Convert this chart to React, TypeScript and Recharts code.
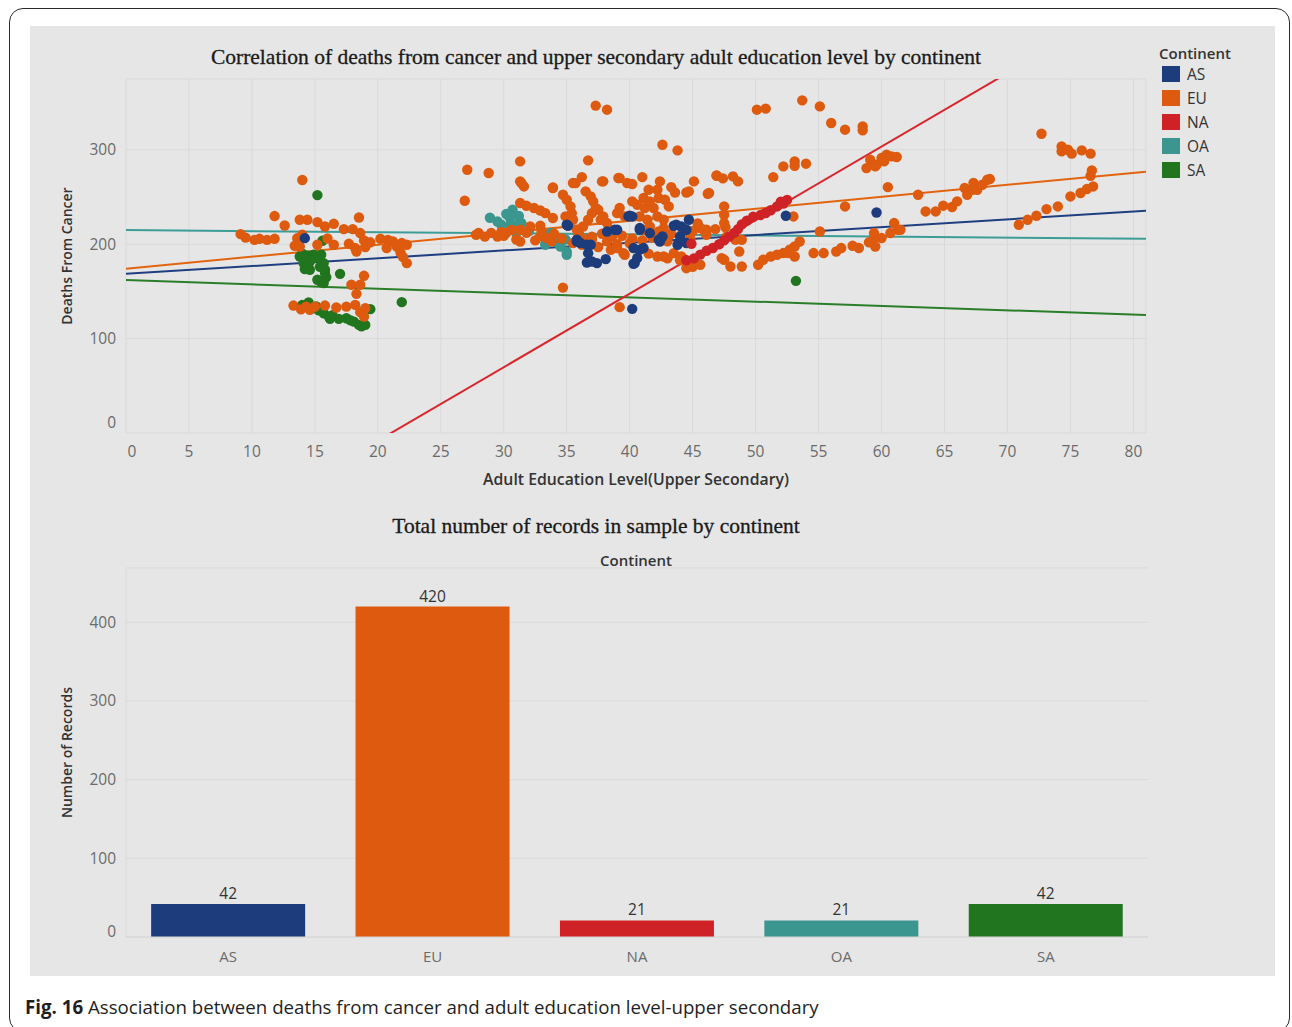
import React from "react";
import {
  ScatterChart,
  Scatter,
  BarChart,
  Bar,
  Cell,
  LabelList,
  XAxis,
  YAxis,
  CartesianGrid,
  ReferenceLine,
} from "recharts";

const continents = ["AS", "EU", "NA", "OA", "SA"];
const continentColors = ["#1d3c7b", "#dd5a0e", "#cf2227", "#3a968f", "#22751f"];
const lineColors = ["#1f3f80", "#e2640f", "#d9262c", "#3d9d96", "#2a7e2a"];

// number of records per continent (bar chart)
const recordCounts = [42, 420, 21, 21, 42];

// linear trend per continent: deaths = intercept + slope * education
const trendIntercepts = [168.6, 174, -164, 215, 162];
const trendSlopes = [0.825, 1.27, 7.79, -0.115, -0.457];

const xTicks = [0, 5, 10, 15, 20, 25, 30, 35, 40, 45, 50, 55, 60, 65, 70, 75, 80];
const yTicks = [0, 100, 200, 300];
const barTicks = [0, 100, 200, 300, 400];

// [education level, deaths from cancer]
const asPoints = [
  [14.2, 206.4], [35.1, 219.5], [35.8, 202.9], [36.6, 199.4], [36.7, 190.5], [36.6, 180.6],
  [37.4, 180], [38.1, 184.2], [38.2, 213.5], [38.8, 215.3], [40.0, 230.1], [40.8, 215.3],
  [41.6, 211.8], [40.3, 195.9], [40.8, 194.2], [40.6, 185.4], [40.3, 179.3], [42.4, 202.9],
  [43.5, 219.5], [44.0, 208.2], [44.5, 215.3], [44.5, 201.2], [43.8, 199.4], [40.2, 131.5],
  [35.0, 220.6], [35.8, 204.7], [36.1, 201.2], [36.9, 199.4], [37.0, 181.7], [39.0, 215.3],
  [39.9, 229.4], [40.2, 229.4], [40.8, 217.1], [42.6, 208.2], [43.7, 220.6], [44.7, 225.9],
  [41.1, 195.9], [42.3, 204.7], [52.4, 230.1], [59.6, 233.6], [40.4, 180], [44.1, 218.8],
];

const euPoints = [
  // low education group
  [9.1, 210.7], [9.5, 207], [10.2, 204.6], [10.6, 205.7], [11.2, 204.6], [11.8, 205.7],
  [14.0, 268], [11.8, 229.8], [12.6, 219.8], [13.8, 225.9], [14.4, 225.9], [15.2, 223.4],
  [15.8, 218.8], [16.5, 221.6], [17.3, 216], [18.0, 216], [18.5, 228.3], [18.6, 211.8],
  [13.6, 206.4], [13.4, 198.3], [13.8, 197.6], [14.0, 210], [15.2, 199.4], [16.0, 206],
  [16.5, 199.4], [17.7, 200.4], [18.2, 195.9], [18.3, 192.3], [19.0, 196.9], [18.9, 204],
  [19.4, 202], [20.2, 205.7], [20.8, 204.6], [21.2, 202.9], [20.7, 195.9], [21.5, 197.6],
  [21.9, 201.2], [22.3, 199.4], [21.8, 191.2], [22.0, 186.3], [22.3, 179.9],
  [18.9, 166.5], [17.9, 157], [18.6, 157], [18.3, 147.4],
  [13.3, 135], [13.9, 131], [14.3, 133.9], [14.6, 130.5], [15.0, 133.9], [15.8, 135],
  [16.7, 132.9], [17.5, 133.9], [18.2, 135.7], [18.6, 128], [19.0, 132.2], [18.9, 123.3],
  // middle group
  [26.9, 246], [27.1, 278.9], [28.8, 275.4], [31.3, 287.7], [36.7, 288.8], [31.3, 266.6],
  [31.6, 261.2], [33.9, 260.1], [35.7, 264.7], [36.2, 271.1], [37.9, 266.6], [39.2, 270],
  [40.2, 263.7], [41.0, 271.1], [42.4, 266.5], [43.3, 260.5], [43.6, 254.8], [44.5, 254.8],
  [45.1, 266.5], [46.2, 253.4], [46.9, 272.9], [37.3, 346.8], [38.2, 342.5], [42.6, 305.4],
  [43.8, 299.4], [34.7, 154], [39.2, 133.3], [39.6, 188.8], [44.5, 174.6], [44.7, 180],
  [43.5, 190.5], [31.4, 264.8], [31.3, 243.6], [31.8, 240.7], [32.4, 238.3], [32.9, 235.7],
  [33.3, 232.9], [33.9, 259.5], [33.9, 227.7], [32.1, 218.8], [32.9, 219.5], [31.3, 215.3],
  [32.9, 208.6], [33.4, 206.5], [31.3, 202.9], [34.7, 252.4], [35.0, 247.1], [35.3, 240],
  [35.4, 232.9], [34.9, 229.4], [35.5, 225.9], [35.5, 264.8], [36.5, 256], [36.9, 250.7],
  [37.1, 245.4], [37.3, 238.3], [37.0, 232.9], [36.7, 225.9], [36.3, 218.8], [35.9, 211.7],
  [37.8, 266.5], [37.5, 236.5], [37.9, 229.4], [38.2, 222.4], [37.7, 225.9], [39.1, 270.1],
  [39.8, 264.8], [39.2, 238.3], [39.0, 232.9], [39.6, 229.4], [39.5, 190.5], [35.8, 215.3],
  [35.5, 201.2], [36.2, 199.4], [41.5, 257.7], [42.2, 257.7], [44.7, 256], [41.1, 248.9],
  [41.6, 245.4], [42.3, 248.9], [42.8, 247.1], [43.1, 240], [41.9, 238.3], [41.2, 238.3],
  [40.6, 241.8], [40.2, 245.4], [40.8, 229.4], [41.4, 225.9], [42.2, 229.4], [42.7, 225.9],
  [41.6, 218.8], [42.3, 213.5], [42.7, 217.1], [43.1, 210], [41.1, 215.3], [46.1, 215.3],
  [45.6, 217.1], [42.2, 187], [42.7, 187], [44.1, 187], [44.4, 183.5], [44.9, 178.2],
  [47.3, 185.3], [48.0, 176.4],
  [27.8, 210], [28.0, 212], [28.5, 208], [29.0, 212], [29.5, 208], [29.8, 213], [30.0, 209],
  [30.2, 212], [30.6, 215], [31.0, 205], [31.8, 212], [32.5, 204], [33.0, 214], [33.8, 203],
  [34.0, 211], [34.6, 206], [36.0, 210], [36.6, 205], [37.0, 208], [37.8, 211], [38.2, 203],
  [38.6, 208], [39.0, 200], [39.4, 209], [40.0, 201], [40.2, 206], [41.0, 204], [41.8, 207],
  [42.6, 213], [43.0, 203], [43.3, 211], [44.2, 213], [44.8, 206], [45.0, 214], [46.0, 212],
  [46.8, 216], [47.6, 218], [45.4, 222], [37.0, 205], [37.5, 197], [38.5, 194], [39.0, 196],
  [41.5, 190], [43.0, 185], [44.0, 183], [45.0, 176],
  // high education group
  [50.1, 342.5], [50.8, 343.6], [53.7, 352.4], [55.1, 346], [56.0, 328.4], [57.1, 321.3],
  [58.5, 324.8], [58.5, 320.6], [46.9, 272.5], [47.4, 269.7], [48.2, 271.8], [48.6, 266.5],
  [51.4, 271.1], [52.2, 282.4], [53.1, 287.7], [53.1, 283.1], [54.0, 285.3], [46.3, 254.2],
  [47.5, 240], [47.5, 231.2], [47.5, 222.4], [45.9, 215.3], [46.1, 210], [45.6, 178.2],
  [47.5, 183.5], [48.7, 192.3], [48.9, 176.4], [47.7, 208.2], [48.4, 204.7], [48.9, 204.7],
  [53.0, 229.4], [55.1, 213.5], [57.1, 240], [60.5, 260.5], [62.9, 252.4], [63.5, 234.7],
  [58.8, 280.6], [59.1, 289.5], [59.6, 284.2], [60.0, 291.3], [60.4, 294.8], [60.8, 293],
  [61.2, 292.4], [59.5, 282.4], [60.2, 287.7], [61.0, 222.4], [61.3, 215.3], [60.7, 211.8],
  [60.0, 206.5], [59.4, 206.5], [59.5, 197.6], [59.4, 211.8], [58.2, 196], [59.0, 202],
  [53.5, 202.9], [53.1, 197.6], [52.7, 194.1], [52.2, 190.6], [51.7, 188.8], [51.2, 187],
  [50.6, 183.5], [50.2, 178.2], [54.6, 190.6], [55.4, 190.6], [56.4, 192.3], [56.8, 195.9],
  [57.7, 198.3], [53.1, 187], [52.6, 190.6],
  [72.7, 317], [74.3, 303.6], [74.3, 298.3], [74.8, 300.1], [75.1, 295.9], [75.9, 299.4],
  [76.6, 295.9], [76.7, 278.2], [76.6, 272.5], [76.8, 261.2], [76.3, 258.4], [75.8, 254.2],
  [75.0, 250.6], [74.0, 240], [73.1, 237.2], [72.3, 230.1], [71.6, 225.9], [70.9, 220.6],
  [64.3, 234.7], [64.9, 240.8], [65.6, 239.4], [66.0, 245.4], [66.6, 259.5], [66.8, 252.4],
  [67.3, 264.8], [67.6, 257.7], [68.0, 263], [68.4, 268.3], [68.6, 269], [67.2, 257.7],
  [61.5, 215.3],
];

const naPoints = [
  [44.5, 183], [44.9, 200.4], [45.1, 185], [45.6, 189], [46.1, 193], [46.6, 196], [47.1, 200],
  [47.5, 204], [47.9, 208], [48.3, 212], [48.6, 216], [48.9, 221], [49.3, 225], [49.8, 229],
  [50.4, 231], [50.8, 233], [51.2, 236], [51.7, 240], [52.2, 243], [52.5, 247], [52.0, 245],
];

const oaPoints = [
  [28.9, 228], [29.8, 220.6], [30.5, 227.7], [30.7, 236.5], [31.2, 222.4], [30.5, 220.6],
  [31.0, 211.8], [31.4, 222.4], [33.3, 200.4], [34.1, 202.9], [35.0, 188.8], [34.5, 197.6],
  [33.3, 199.4], [34.3, 201.2], [33.7, 211.8], [30.2, 232], [31.2, 230], [32.0, 214],
  [35.0, 192], [34.9, 205], [29.5, 224],
];

const saPoints = [
  [15.2, 252], [15.6, 203.6], [13.8, 187], [14.4, 187.7], [14.9, 188.8], [15.5, 188.8],
  [14.1, 180], [14.6, 181.7], [15.7, 180], [14.2, 173.6], [14.6, 172.9], [15.8, 172.9],
  [15.8, 169.4], [15.2, 162.3], [15.7, 158.8], [17.0, 168.6], [21.9, 138.6], [14.0, 135.7],
  [14.5, 138.2], [14.8, 132.2], [15.7, 126.9], [16.1, 123.3], [16.9, 120.9], [17.5, 121.6],
  [18.1, 118], [18.5, 114.5], [19.0, 114.5], [19.4, 131.2], [53.2, 161.2], [14.5, 135.5],
  [15.1, 134], [16.4, 124.8], [18.7, 113], [15.3, 130], [14.0, 190], [15.1, 186],
  [14.4, 177], [15.4, 176], [15.9, 165], [15.5, 160], [16.2, 121], [17.8, 119.5],
];

const pointsByContinent = [asPoints, euPoints, naPoints, oaPoints, saPoints];
// later series paint over earlier ones
const drawOrder = [4, 3, 1, 0, 2];

const X_MAX = 81;
const sans = "'Open Sans', 'Noto Sans', sans-serif";
const serif = "'Liberation Serif', 'Times New Roman', serif";
const tickGray = "#6b6b6b";
const labelDark = "#333333";

function ScatterXTick({ x, y, payload }: any) {
  // the first label sits inside the pane, like the rest of the viz
  const dx = payload.value === 0 ? 6 : 0;
  return (
    <text x={x + dx} y={y} dy="0.71em" textAnchor="middle" fill={tickGray} fontSize={15.5} fontFamily={sans}>
      {payload.value}
    </text>
  );
}

function makeYTick(zeroShift: number) {
  return function YTick({ x, y, payload }: any) {
    const dy = payload.value === 0 ? zeroShift : 0;
    return (
      <text x={x} y={y + dy} dy="0.355em" textAnchor="end" fill={tickGray} fontSize={15.5} fontFamily={sans}>
        {payload.value}
      </text>
    );
  };
}

function BarXTick({ x, y, payload }: any) {
  return (
    <text x={x} y={y} dy="0.71em" textAnchor="middle" fill={tickGray} fontSize={15} fontFamily={sans}>
      {payload.value}
    </text>
  );
}

const dot = (color: string) => (p: any) => <circle cx={p.cx} cy={p.cy} r={5.2} fill={color} />;

const titleStyle: React.CSSProperties = {
  position: "absolute",
  left: 0,
  width: 1192,
  textAlign: "center",
  fontFamily: serif,
  fontSize: 21.5,
  lineHeight: "26px",
  color: "#1a1a1a",
  WebkitTextStroke: "0.3px #1a1a1a",
};

export default function App() {
  const barData = continents.map((c, i) => ({ continent: c, records: recordCounts[i] }));

  return (
    <div
      style={{
        position: "absolute",
        left: 0,
        top: 0,
        width: 1292,
        height: 1027,
        overflow: "hidden",
        background: "#ffffff",
        fontFamily: sans,
      }}
    >
      <div
        style={{
          position: "absolute",
          left: 9,
          top: 8,
          width: 1281,
          height: 1024,
          border: "1.5px solid #2a2a2a",
          borderRadius: 14,
          boxSizing: "border-box",
        }}
      />
      <div style={{ position: "absolute", left: 30, top: 26, width: 1245, height: 950, background: "#e6e6e6" }} />

      <div style={{ ...titleStyle, top: 44 }}>
        Correlation of deaths from cancer and upper secondary adult education level by continent
      </div>

      <div style={{ position: "absolute", left: 0, top: 0 }}>
        <ScatterChart width={1292} height={500} margin={{ top: 79, right: 146, bottom: 15, left: 66 }}>
          <CartesianGrid stroke="#d9d9d9" />
          <XAxis
            type="number"
            dataKey="x"
            domain={[0, X_MAX]}
            ticks={xTicks}
            axisLine={false}
            tickLine={false}
            tickSize={0}
            tickMargin={13}
            height={52}
            tick={<ScatterXTick />}
            label={{
              value: "Adult Education Level(Upper Secondary)",
              position: "insideBottom",
              offset: 0,
              fill: labelDark,
              fontSize: 15.8,
              fontWeight: 600,
              fontFamily: sans,
            }}
          />
          <YAxis
            type="number"
            dataKey="y"
            domain={[0, 375]}
            ticks={yTicks}
            axisLine={false}
            tickLine={false}
            tickSize={0}
            tickMargin={10}
            width={60}
            tick={makeYTick(-11)}
            label={{
              value: "Deaths From Cancer",
              angle: -90,
              position: "insideLeft",
              offset: 1,
              fill: labelDark,
              fontSize: 14,
              fontWeight: 600,
              fontFamily: sans,
              style: { textAnchor: "middle" },
            }}
          />
          {drawOrder.map((i) => (
            <Scatter
              key={continents[i]}
              name={continents[i]}
              data={pointsByContinent[i].map(([x, y]) => ({ x, y }))}
              fill={continentColors[i]}
              shape={dot(continentColors[i])}
              isAnimationActive={false}
            />
          ))}
          {drawOrder.map((i) => (
            <ReferenceLine
              key={`trend-${continents[i]}`}
              segment={[
                { x: 0, y: trendIntercepts[i] },
                { x: X_MAX, y: trendIntercepts[i] + trendSlopes[i] * X_MAX },
              ]}
              stroke={lineColors[i]}
              strokeWidth={2}
              ifOverflow="hidden"
            />
          ))}
        </ScatterChart>
      </div>

      {/* colour legend */}
      <div style={{ position: "absolute", left: 1159, top: 43, fontSize: 15, fontWeight: 600, color: labelDark, lineHeight: "20px" }}>
        Continent
      </div>
      {continents.map((c, i) => (
        <React.Fragment key={c}>
          <div
            style={{
              position: "absolute",
              left: 1162,
              top: 66 + i * 24,
              width: 18,
              height: 16,
              background: continentColors[i],
            }}
          />
          <div
            style={{
              position: "absolute",
              left: 1187,
              top: 64 + i * 24,
              fontSize: 15.5,
              lineHeight: "20px",
              color: labelDark,
            }}
          >
            {c}
          </div>
        </React.Fragment>
      ))}

      <div style={{ ...titleStyle, top: 513 }}>Total number of records in sample by continent</div>
      <div
        style={{
          position: "absolute",
          left: 126,
          top: 550,
          width: 1020,
          textAlign: "center",
          fontSize: 15,
          fontWeight: 600,
          color: labelDark,
          lineHeight: "20px",
        }}
      >
        Continent
      </div>

      <div style={{ position: "absolute", left: 0, top: 500 }}>
        <BarChart
          width={1292}
          height={480}
          data={barData}
          margin={{ top: 68, right: 144, bottom: 0, left: 66 }}
          barCategoryGap="12.3%"
        >
          <CartesianGrid vertical={false} stroke="#d9d9d9" />
          <XAxis
            dataKey="continent"
            axisLine={{ stroke: "#d6d6d6" }}
            tickLine={false}
            tickSize={0}
            tickMargin={14}
            height={43}
            tick={<BarXTick />}
          />
          <YAxis
            domain={[0, 469]}
            ticks={barTicks}
            axisLine={{ stroke: "#dadada" }}
            tickLine={false}
            tickSize={0}
            tickMargin={10}
            width={60}
            tick={makeYTick(-6)}
            label={{
              value: "Number of Records",
              angle: -90,
              position: "insideLeft",
              offset: 1,
              fill: labelDark,
              fontSize: 14,
              fontWeight: 600,
              fontFamily: sans,
              style: { textAnchor: "middle" },
            }}
          />
          <Bar dataKey="records" isAnimationActive={false}>
            {barData.map((d, i) => (
              <Cell key={d.continent} fill={continentColors[i]} />
            ))}
            <LabelList dataKey="records" position="top" offset={5} fill={labelDark} fontSize={15.5} fontFamily={sans} />
          </Bar>
        </BarChart>
      </div>

      <div
        style={{
          position: "absolute",
          left: 25,
          top: 994,
          fontSize: 18.7,
          lineHeight: "26px",
          color: "#1f1f1f",
          whiteSpace: "nowrap",
        }}
      >
        <b>Fig. 16</b> Association between deaths from cancer and adult education level-upper secondary
      </div>
    </div>
  );
}
